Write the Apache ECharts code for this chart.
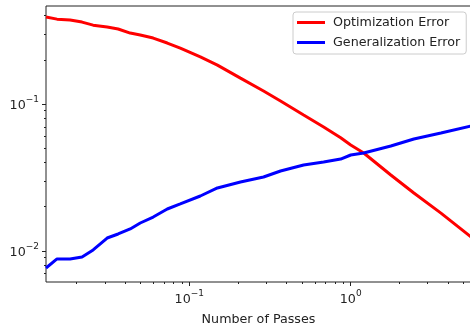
<!doctype html>
<html>
<head>
<meta charset="utf-8">
<title>Optimization vs Generalization Error</title>
<script src="https://cdn.jsdelivr.net/npm/echarts@6/dist/echarts.min.js"></script>
<style>
html, body { margin: 0; padding: 0; background: #fff; }
#chart { width: 470px; height: 325px; }
</style>
</head>
<body>
<div id="chart"></div>
<script>
// data
var passes = [0.01294, 0.01514, 0.01824, 0.02164, 0.02535, 0.03096, 0.03622, 0.04302, 0.04965, 0.05973,
	0.0730, 0.0879, 0.1170, 0.1493, 0.2074, 0.2883, 0.3674, 0.5107, 0.6795, 0.8667,
	1.0, 1.204, 1.772, 2.462, 3.623, 5.563];
var optError = [0.391, 0.378, 0.373, 0.361, 0.344, 0.334, 0.324, 0.304, 0.295, 0.281,
	0.260, 0.240, 0.209, 0.184, 0.150, 0.1226, 0.1048, 0.0842, 0.0698, 0.0590,
	0.0526, 0.0464, 0.0329, 0.0248, 0.0181, 0.01245];
var genError = [0.00766, 0.00883, 0.00883, 0.00910, 0.01016, 0.01225, 0.01305, 0.01412, 0.01550, 0.01702,
	0.01930, 0.02089, 0.02366, 0.02685, 0.02947, 0.03187, 0.03500, 0.03845, 0.04028, 0.04223,
	0.04499, 0.04643, 0.05181, 0.05780, 0.06353, 0.07087];
var seriesNames = ['Optimization Error', 'Generalization Error'];

// ticks
var xMajor = [0.1, 1];
var yMajor = [0.01, 0.1];
var xMinor = [0.02, 0.03, 0.04, 0.05, 0.06, 0.07, 0.08, 0.09, 0.2, 0.3, 0.4, 0.5, 0.6, 0.7, 0.8, 0.9, 2, 3, 4, 5];
var yMinor = [0.007, 0.008, 0.009, 0.02, 0.03, 0.04, 0.05, 0.06, 0.07, 0.08, 0.09, 0.2, 0.3, 0.4];

var xMin = 0.01294, xMax = 5.563;
var yMin = 0.00615, yMax = 0.4645;

function pairs(xs, ys) {
	var out = [];
	for (var i = 0; i < xs.length; i++) out.push([xs[i], ys[i]]);
	return out;
}

function powLabel(v) {
	var e = Math.round(Math.log(v) / Math.LN10);
	var s = e < 0 ? '\u2212' + (-e) : '' + e;
	return '{b|10}{s|' + s + '}';
}

var labelRich = {
	b: { fontFamily: 'DejaVu Sans', fontSize: 12.7, color: '#222', lineHeight: 17, verticalAlign: 'bottom' },
	s: { fontFamily: 'DejaVu Sans', fontSize: 9, color: '#222', lineHeight: 17, verticalAlign: 'top' }
};

var chart = echarts.init(document.getElementById('chart'));
chart.setOption({
	animation: false,
	backgroundColor: '#fff',
	textStyle: { fontFamily: 'DejaVu Sans' },
	grid: {
		left: 46, top: 6, width: 425, height: 276,
		outerBoundsMode: 'none', containLabel: false,
		show: true, borderColor: '#222', borderWidth: 1, backgroundColor: 'transparent'
	},
	legend: {
		data: [
			{ name: seriesNames[0], icon: 'rect' },
			{ name: seriesNames[1], icon: 'rect' }
		],
		orient: 'vertical',
		left: 293, top: 12,
		itemWidth: 28, itemHeight: 3, itemGap: 5,
		padding: [3, 6, 4, 4],
		backgroundColor: 'rgba(255,255,255,0.8)',
		borderColor: '#cccccc', borderWidth: 1, borderRadius: 3,
		selectedMode: false,
		textStyle: { fontFamily: 'DejaVu Sans', fontSize: 12.7, color: '#222', lineHeight: 15, padding: [0, 0, 0, 3] }
	},
	xAxis: [{
		type: 'log', min: xMin, max: xMax,
		name: 'Number of Passes', nameLocation: 'middle', nameGap: 31,
		nameTextStyle: { fontFamily: 'DejaVu Sans', fontSize: 12.7, color: '#222' },
		axisLine: { show: false },
		splitLine: { show: false },
		axisTick: { show: true, customValues: xMajor, length: 4, lineStyle: { color: '#222', width: 1 } },
		axisLabel: { customValues: xMajor, margin: 7, formatter: powLabel, rich: labelRich }
	}, {
		type: 'log', min: xMin, max: xMax, position: 'bottom',
		axisLine: { show: false }, splitLine: { show: false },
		axisTick: { show: true, customValues: xMinor, length: 2, lineStyle: { color: '#222', width: 1 } },
		axisLabel: { show: false }
	}],
	yAxis: [{
		type: 'log', min: yMin, max: yMax,
		axisLine: { show: false },
		splitLine: { show: false },
		axisTick: { show: true, customValues: yMajor, length: 4, lineStyle: { color: '#222', width: 1 } },
		axisLabel: { customValues: yMajor, margin: 7, formatter: powLabel, rich: labelRich }
	}, {
		type: 'log', min: yMin, max: yMax, position: 'left',
		axisLine: { show: false }, splitLine: { show: false },
		axisTick: { show: true, customValues: yMinor, length: 2, lineStyle: { color: '#222', width: 1 } },
		axisLabel: { show: false }
	}],
	series: [{
		name: seriesNames[0], type: 'line',
		data: pairs(passes, optError),
		showSymbol: false, symbol: 'none',
		lineStyle: { color: '#ff0000', width: 3 },
		itemStyle: { color: '#ff0000' },
		clip: true
	}, {
		name: seriesNames[1], type: 'line',
		data: pairs(passes, genError),
		showSymbol: false, symbol: 'none',
		lineStyle: { color: '#0000ff', width: 3 },
		itemStyle: { color: '#0000ff' },
		clip: true
	}]
});
</script>
</body>
</html>
